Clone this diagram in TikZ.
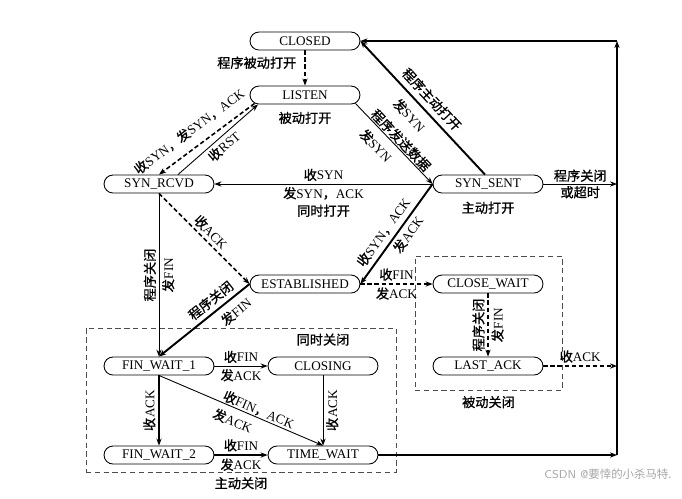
\documentclass[tikz,border=0pt]{standalone}
\usepackage{fontspec}
\setmainfont{Liberation Serif}
\newfontfamily\cjk{Noto Sans CJK SC}[FakeBold=1]
\newcommand{\zh}[1]{{\cjk #1}}
\usetikzlibrary{positioning,arrows.meta}

\begin{document}
\begin{tikzpicture}[x=0.02cm,y=-0.02cm,>={Stealth[length=4pt,width=3pt]},
  state/.style={draw,line width=0.5pt,rounded corners=0.18cm,minimum width=2.2cm,minimum height=0.36cm,inner sep=0pt,font=\fontsize{7.5}{9}\selectfont},
  lbl/.style={font=\fontsize{7.5}{10}\selectfont,inner sep=1.5pt},
  cli/.style={->,line width=1.1pt},
  srv/.style={->,line width=0.9pt,dash pattern=on 2.5pt off 1.5pt},
  plainarr/.style={->,line width=0.5pt},
  zone/.style={draw=black!70,dash pattern=on 3pt off 2pt,line width=0.5pt,inner sep=0pt}]
\useasboundingbox (0,0) rectangle (682,498);
% ---- states ----
\node[state] (closed) at (305,41) {CLOSED};
\node[state] (listen) at (305,95) {LISTEN};
\node[state] (synrcvd) at (159,184) {SYN\_RCVD};
\node[state] (synsent) at (488,184) {SYN\_SENT};
\node[state] (estab) at (305,284) {ESTABLISHED};
\node[state] (closewait) at (488,284) {CLOSE\_WAIT};
\node[state] (lastack) at (488,366) {LAST\_ACK};
\node[state] (finwait1) at (159,366) {FIN\_WAIT\_1};
\node[state] (closing) at (323,366) {CLOSING};
\node[state] (finwait2) at (159,455) {FIN\_WAIT\_2};
\node[state] (timewait) at (323,455) {TIME\_WAIT};
\node[lbl,below=2.5pt of listen] (passopen) {\zh{被动打开}};
\node[lbl,below=3pt of synsent] (actopen) {\zh{主动打开}};
% ---- close zones ----
\node[zone,minimum width=6.2cm,minimum height=2.88cm] (actzone) at (241,400) {};
\node[zone,minimum width=2.94cm,minimum height=2.68cm] (passzone) at (488.5,323) {};
\node[lbl,below=1pt of actzone] (actclose) {\zh{主动关闭}};
\node[lbl,below=1.5pt of passzone] (passclose) {\zh{被动关闭}};
\node[lbl,above=4.5pt of closing] (simclose) {\zh{同时关闭}};
\coordinate (rt) at (617,41);
\coordinate (rb) at (617,455);
% ---- open ----
\draw[srv] (closed) -- (listen) node[lbl,pos=0.35,left=3pt] {\zh{程序被动打开}};
\draw[srv] ([shift={(5,-1)}]listen.south west) -- (synrcvd.north)
  node[lbl,pos=0.58,sloped,above=4pt] {\zh{收}SYN\zh{，发}SYN\zh{，}ACK};
\draw[plainarr] ([shift={(19,0)}]synrcvd.north) -- ([shift={(-47,0)}]listen.south)
  node[lbl,midway,sloped,below] {\zh{收}RST};
\draw[plainarr] ([shift={(-5,-1)}]listen.south east) -- (synsent.west)
  node[lbl,pos=0.52,sloped,above,inner sep=0.5pt] {\zh{程序发送数据}}
  node[lbl,pos=0.4,sloped,below=3pt] {\zh{发}SYN};
\draw[cli] ([shift={(-3,0)}]synsent.north) -- (closed.east)
  node[lbl,midway,sloped,above=1.5pt] {\zh{程序主动打开}}
  node[lbl,pos=0.52,sloped,below=3pt] {\zh{发}SYN};
\draw[plainarr] (synsent.west) -- (synrcvd.east)
  node[lbl,midway,above] {\zh{收}SYN}
  node[lbl,midway,below,align=center] {\zh{发}SYN\zh{，}ACK\\\zh{同时打开}};
\draw[cli] (synsent.west) -- (estab.east)
  node[lbl,pos=0.55,sloped,above=1pt] {\zh{收}SYN\zh{，}ACK}
  node[lbl,pos=0.45,sloped,below] {\zh{发}ACK};
\draw[srv] (synrcvd.south) -- (estab.west) node[lbl,midway,sloped,above] {\zh{收}ACK};
% ---- close ----
\draw[plainarr] (synrcvd.south) -- (finwait1.north)
  node[lbl,midway,rotate=90,above] {\zh{程序关闭}}
  node[lbl,midway,rotate=90,below] {\zh{发}FIN};
\draw[cli] (estab.west) -- (finwait1.north)
  node[lbl,pos=0.35,sloped,above=1pt] {\zh{程序关闭}}
  node[lbl,pos=0.24,sloped,below=2pt] {\zh{发}FIN};
\draw[srv] (estab.east) -- (closewait.west)
  node[lbl,midway,above] {\zh{收}FIN}
  node[lbl,midway,below] {\zh{发}ACK};
\draw[srv] (closewait.south) -- (lastack.north)
  node[lbl,midway,rotate=90,above] {\zh{程序关闭}}
  node[lbl,midway,rotate=90,below] {\zh{发}FIN};
\draw[srv] (lastack.east) -- (lastack.east -| rt) node[lbl,midway,above] {\zh{收}ACK};
\draw[plainarr] (synsent.east) -- (synsent.east -| rt)
  node[lbl,midway,above,inner sep=1pt] {\zh{程序关闭}}
  node[lbl,midway,below,inner sep=1pt] {\zh{或超时}};
\draw[plainarr] (finwait1.east) -- (closing.west)
  node[lbl,midway,above] {\zh{收}FIN}
  node[lbl,midway,below] {\zh{发}ACK};
\draw[cli] (finwait1.south) -- (finwait2.north) node[lbl,midway,rotate=90,above] {\zh{收}ACK};
\draw[plainarr] (finwait1.south) -- (timewait.north)
  node[lbl,pos=0.59,sloped,above,inner sep=0.5pt] {\zh{收}FIN\zh{，}ACK}
  node[lbl,pos=0.48,sloped,below=2pt] {\zh{发}ACK};
\draw[plainarr] (closing.south) -- (timewait.north) node[lbl,midway,rotate=90,below] {\zh{收}ACK};
\draw[cli] (finwait2.east) -- (timewait.west)
  node[lbl,midway,above] {\zh{收}FIN}
  node[lbl,midway,below] {\zh{发}ACK};
\draw[cli] (timewait.east) -- (rb);
\draw[->,line width=0.8pt] (rb) -- (rt);
\draw[->,line width=0.8pt] (rt) -- (closed.east);
\node[font=\sffamily\fontsize{6.5}{8}\selectfont,text=black!35] (mark) at (608,474) {CSDN @{\fontspec{Noto Sans CJK SC}要悻的小杀马特.}};
\end{tikzpicture}
\end{document}
